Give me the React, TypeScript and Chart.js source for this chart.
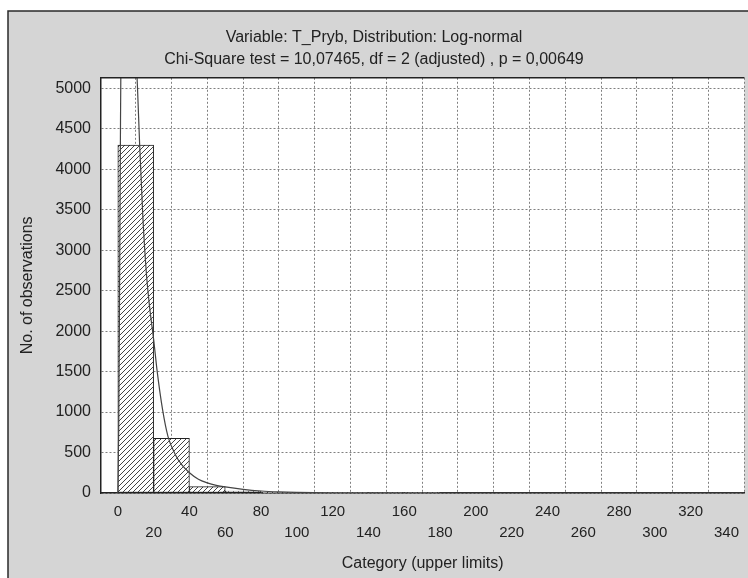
import React, { useEffect, useRef } from 'react';
import { Chart, registerables } from 'chart.js';

Chart.register(...registerables);

const TITLE_LINES = [
  'Variable: T_Pryb, Distribution: Log-normal',
  'Chi-Square test = 10,07465, df = 2 (adjusted) , p = 0,00649',
];
const X_TITLE = 'Category (upper limits)';
const Y_TITLE = 'No. of observations';

// histogram bins (centres of 20-wide classes) and observed counts
const BIN_CENTERS = [10, 30, 50, 70, 90, 110, 130, 150, 170, 190, 210, 230, 250, 270, 290, 310, 330];
const BIN_COUNTS = [4300, 675, 78, 25, 8, 4, 2, 1, 1, 0, 0, 0, 0, 0, 0, 0, 0];

// fitted log-normal expected frequency curve
const CURVE_X = [0, 0.5, 1, 1.5, 2, 3, 4, 5, 6, 7, 8, 9, 10, 11, 12.2, 14, 16, 18, 20, 22, 25, 28, 32, 36, 40, 45, 50, 55, 60, 70, 80, 90, 100, 120, 140, 180, 350];
const CURVE_Y = [0, 800, 2600, 4600, 6200, 8000, 8600, 8600, 8200, 7500, 6800, 6100, 5500, 5000, 4300, 3400, 2700, 2250, 1900, 1500, 1030, 700, 480, 340, 250, 170, 125, 95, 75, 45, 25, 14, 8, 3, 1, 0, 0];

// axis ticks
const X_TICKS = [0, 20, 40, 60, 80, 100, 120, 140, 160, 180, 200, 220, 240, 260, 280, 300, 320, 340];
const Y_TICKS = [0, 500, 1000, 1500, 2000, 2500, 3000, 3500, 4000, 4500, 5000];

const X_MIN = -9.4;
const X_MAX = 350;
const Y_MIN = 0;
const Y_MAX = 5130;

const FONT = '"Liberation Sans", Arial, sans-serif';

function makeHatch(): CanvasPattern | string {
  const c = document.createElement('canvas');
  const s = 5;
  c.width = s;
  c.height = s;
  const g = c.getContext('2d');
  if (!g) return '#bbb';
  g.fillStyle = '#ffffff';
  g.fillRect(0, 0, s, s);
  g.strokeStyle = '#444';
  g.lineWidth = 1;
  g.beginPath();
  g.moveTo(-1, s + 1);
  g.lineTo(s + 1, -1);
  g.moveTo(-1, 1);
  g.lineTo(1, -1);
  g.moveTo(s - 1, s + 1);
  g.lineTo(s + 1, s - 1);
  g.stroke();
  const p = g.createPattern(c, 'repeat');
  return p || '#bbb';
}

const backgroundPlugin = {
  id: 'scanBackground',
  beforeDraw(chart: any) {
    const { ctx, width, height, chartArea } = chart;
    ctx.save();
    ctx.fillStyle = '#ffffff';
    ctx.fillRect(0, 0, width, height);
    ctx.fillStyle = '#d5d5d5';
    ctx.fillRect(8, 11, width - 8, height - 11);
    ctx.strokeStyle = '#2a2a2a';
    ctx.lineWidth = 1.5;
    ctx.beginPath();
    ctx.moveTo(8, height);
    ctx.lineTo(8, 11);
    ctx.lineTo(width, 11);
    ctx.stroke();
    ctx.fillStyle = '#ffffff';
    ctx.fillRect(chartArea.left, chartArea.top, chartArea.right - chartArea.left, chartArea.bottom - chartArea.top);
    ctx.restore();
  },
  afterDraw(chart: any) {
    const { ctx, chartArea } = chart;
    ctx.save();
    ctx.strokeStyle = '#222';
    ctx.lineWidth = 1.5;
    ctx.beginPath();
    ctx.moveTo(chartArea.left, chartArea.top);
    ctx.lineTo(chartArea.right, chartArea.top);
    ctx.stroke();
    ctx.restore();
  },
};

export default function App() {
  const ref = useRef<HTMLCanvasElement | null>(null);

  useEffect(() => {
    if (!ref.current) return;
    const hatch = makeHatch();
    const chart = new Chart(ref.current, {
      type: 'bar',
      data: {
        datasets: [
          {
            type: 'line',
            label: 'Expected',
            data: CURVE_X.map((x, i) => ({ x, y: CURVE_Y[i] })),
            borderColor: '#444',
            borderWidth: 1.2,
            pointRadius: 0,
            cubicInterpolationMode: 'monotone',
            fill: false,
            order: 0,
          } as any,
          {
            type: 'bar',
            label: 'Observed',
            data: BIN_CENTERS.map((x, i) => ({ x, y: BIN_COUNTS[i] })),
            backgroundColor: hatch as any,
            borderColor: '#222',
            borderWidth: 1,
            borderSkipped: false,
            barPercentage: 1,
            categoryPercentage: 1,
            order: 1,
          } as any,
        ],
      },
      options: {
        responsive: false,
        animation: false,
        layout: { padding: 0 },
        plugins: {
          legend: { display: false },
          tooltip: { enabled: false },
          title: {
            display: true,
            text: TITLE_LINES,
            color: '#222',
            font: { family: FONT, size: 16, weight: 'normal', lineHeight: 1.4 },
            padding: { top: 26, bottom: 7 },
          },
        },
        scales: {
          x: {
            type: 'linear',
            min: X_MIN,
            max: X_MAX,
            offset: false,
            grid: {
              color: '#808080',
              lineWidth: 1,
              drawTicks: false,
            },
            border: { color: '#222', width: 1.5, dash: [2, 2] },
            afterBuildTicks: (s: any) => {
              s.ticks = X_TICKS.map((value) => ({ value }));
            },
            ticks: {
              autoSkip: false,
              maxRotation: 0,
              minRotation: 0,
              padding: 9,
              color: '#222',
              font: { family: FONT, size: 15, lineHeight: 1.37 },
              callback: (v: any) => {
                const n = Number(v);
                return n % 40 === 0 ? [String(n), ''] : ['', String(n)];
              },
            },
            title: {
              display: true,
              text: X_TITLE,
              color: '#222',
              font: { family: FONT, size: 16, lineHeight: 1.2 },
              padding: { top: 0, bottom: 5 },
            },
            afterFit: (s: any) => {
              s.height = 85;
            },
          },
          y: {
            type: 'linear',
            min: Y_MIN,
            max: Y_MAX,
            grid: {
              color: '#808080',
              lineWidth: 1,
              drawTicks: false,
            },
            border: { color: '#222', width: 1.5, dash: [2, 2] },
            afterBuildTicks: (s: any) => {
              s.ticks = Y_TICKS.map((value) => ({ value }));
            },
            ticks: {
              padding: 10,
              color: '#222',
              font: { family: FONT, size: 16 },
              callback: (v: any) => String(v),
            },
            title: {
              display: true,
              text: Y_TITLE,
              color: '#222',
              font: { family: FONT, size: 16, lineHeight: 1.2 },
              padding: { top: 18, bottom: 0 },
            },
            afterFit: (s: any) => {
              s.width = 101;
            },
          },
        },
      },
      plugins: [backgroundPlugin],
    });
    return () => chart.destroy();
  }, []);

  return (
    <canvas
      ref={ref}
      width={748}
      height={578}
      style={{ position: 'fixed', left: 0, top: 0, width: 748, height: 578 }}
    />
  );
}
